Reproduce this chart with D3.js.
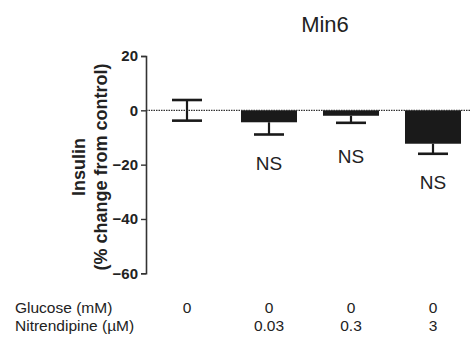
<!DOCTYPE html>
<html><head><meta charset="utf-8">
<script src="https://cdn.jsdelivr.net/npm/d3@7"></script>
<style>body{margin:0;background:#fff;font-family:"Liberation Sans",Arial,sans-serif}</style>
</head><body><svg id="c" width="470" height="340"></svg>
<script>
const categories = ["a","b","c","d"];
const means = [0, -4.4, -2.0, -12.3];
const errors = [3.8, 4.5, 2.6, 3.7];
const sigLabels = ["", "NS", "NS", "NS"];
const sigValues = [null, -22, -19.5, -29];
const glucose = ["0","0","0","0"];
const nitrendipine = ["", "0.03", "0.3", "3"];
const yTicks = [20, 0, -20, -40, -60];

const svg = d3.select("#c");
const x = d3.scaleBand().domain(categories).range([146, 474]).paddingInner(0.317).paddingOuter(0.1585);
const y = d3.scaleLinear().domain([-60, 20]).range([273.3, 56]);
const cx = i => x(categories[i]) + x.bandwidth()/2;

// title
svg.append("text").attr("x", 325).attr("y", 32).attr("text-anchor","middle")
  .attr("font-size", 22).attr("fill","#222").text("Min6");

// y axis
const ax = svg.append("g").attr("transform","translate(146,0)")
  .call(d3.axisLeft(y).tickValues(yTicks).tickSize(5).tickPadding(3));
ax.select(".domain").attr("stroke","#333").attr("stroke-width",1.6);
ax.selectAll(".tick line").attr("stroke","#333").attr("stroke-width",1.4);
ax.selectAll(".tick text").attr("font-size",15).attr("font-weight","bold")
  .attr("font-family","'Liberation Sans',Arial,sans-serif").attr("fill","#222");

// y label
const yl = svg.append("text").attr("transform","translate(0,167) rotate(-90)")
  .attr("text-anchor","middle").attr("font-size",18).attr("font-weight","bold").attr("fill","#222");
yl.append("tspan").attr("x",0).attr("y",85).text("Insulin");
yl.append("tspan").attr("x",0).attr("y",107).text("(% change from control)");

// bars
svg.selectAll("rect.bar").data(means).join("rect").attr("class","bar")
  .attr("x",(d,i)=>x(categories[i])).attr("width",x.bandwidth())
  .attr("y",d=>y(Math.max(0,d))).attr("height",d=>Math.abs(y(d)-y(0)))
  .attr("fill","#1a1a1a");

// zero line
svg.append("line").attr("x1",146).attr("x2",470).attr("y1",y(0)).attr("y2",y(0))
  .attr("stroke","#333").attr("stroke-width",1.2).attr("stroke-dasharray","1.5,1");

// error bars (drawn away from zero; both ways for the zero-mean control)
const capW = 30;
means.forEach((m,i)=>{
  const ends = m < 0 ? [m - errors[i]] : [m + errors[i], m - errors[i]];
  ends.forEach(e=>{
    svg.append("line").attr("x1",cx(i)).attr("x2",cx(i)).attr("y1",y(m)).attr("y2",y(e))
      .attr("stroke","#1a1a1a").attr("stroke-width",2.2);
    svg.append("line").attr("x1",cx(i)-capW/2).attr("x2",cx(i)+capW/2).attr("y1",y(e)).attr("y2",y(e))
      .attr("stroke","#1a1a1a").attr("stroke-width",2.6);
  });
});

// NS labels
svg.selectAll("text.ns").data(sigLabels).join("text").attr("class","ns")
  .attr("x",(d,i)=>cx(i)).attr("y",(d,i)=>sigValues[i]===null?0:y(sigValues[i]))
  .attr("text-anchor","middle").attr("font-size",19).attr("fill","#222").text(d=>d);

// bottom table
const fs = 15.5;
svg.append("text").attr("x",15).attr("y",313).attr("font-size",fs).attr("fill","#222").text("Glucose (mM)");
svg.append("text").attr("x",15).attr("y",331).attr("font-size",fs).attr("fill","#222").text("Nitrendipine (\u00b5M)");
svg.selectAll("text.glu").data(glucose).join("text").attr("class","glu")
  .attr("x",(d,i)=>cx(i)).attr("y",313).attr("text-anchor","middle")
  .attr("font-size",fs).attr("fill","#222").text(d=>d);
svg.selectAll("text.nit").data(nitrendipine).join("text").attr("class","nit")
  .attr("x",(d,i)=>cx(i)).attr("y",331).attr("text-anchor","middle")
  .attr("font-size",fs).attr("fill","#222").text(d=>d);
</script></body></html>
